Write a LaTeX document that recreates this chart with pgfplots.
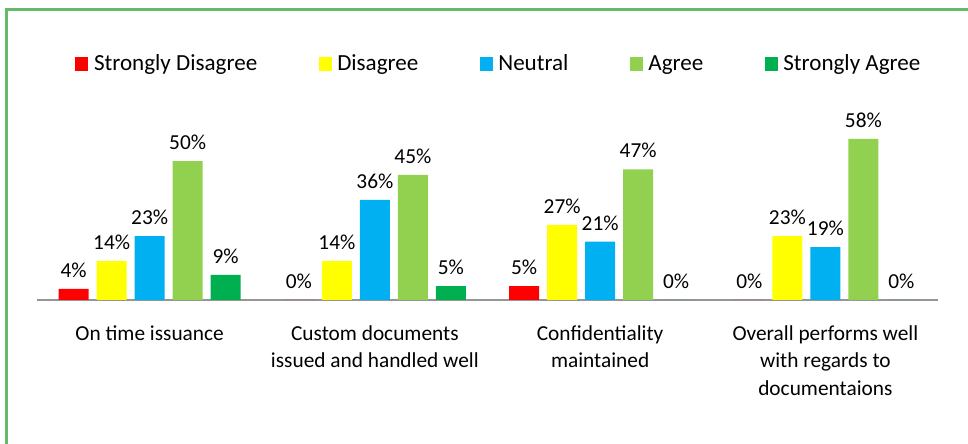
\documentclass[border=0pt]{standalone}
\usepackage{pgfplots}
\pgfplotsset{compat=1.18}
\usepackage{fontspec}
\setmainfont{Carlito}

\definecolor{sdis}{RGB}{255,0,0}
\definecolor{dis}{RGB}{255,255,0}
\definecolor{neu}{RGB}{0,176,240}
\definecolor{agr}{RGB}{146,208,80}
\definecolor{sagr}{RGB}{0,176,80}
\definecolor{framegreen}{RGB}{102,187,106}
\definecolor{axisgray}{RGB}{150,150,150}

\newcommand\chartfont{\fontsize{16pt}{20.6pt}\selectfont}
\newcommand\legfont{\fontsize{17.3pt}{20.6pt}\selectfont}

\begin{document}
\begin{tikzpicture}
\useasboundingbox (0,0) rectangle (726pt,332.25pt);
% frame (only left and top edges visible)
\draw[framegreen, line width=2.25pt] (4.5pt,-2pt) -- (4.5pt,324.75pt) -- (730pt,324.75pt);
\begin{axis}[
    at={(27.75pt,107.25pt)}, anchor=south west,
    scale only axis,
    width=675.75pt, height=125.1pt,
    ymin=0, ymax=60,
    xmin=-0.5, xmax=3.5,
    ybar=6pt, bar width=22.5pt,
    axis x line=bottom, axis y line=none,
    x axis line style={-, draw=axisgray, line width=1.5pt},
    xtick={0,1,2,3},
    xticklabels={On time issuance,
        {Custom documents\\issued and handled well},
        {Confidentiality\\maintained},
        {Overall performs well\\with regards to\\documentaions}},
    major tick length=0pt,
    ytick=\empty,
    xticklabel style={font=\chartfont, align=center, yshift=-15.5pt},
    clip=false,
    /pgf/number format/assume math mode=true,
    nodes near coords={\pgfmathprintnumber{\pgfplotspointmeta}\%},
    every node near coord/.append style={font=\chartfont, black, yshift=5pt},
    legend columns=5,
    legend style={draw=none, at={(0.513,1.415)}, anchor=center, font=\legfont,
        /tikz/every even column/.append style={column sep=44pt}},
    legend image code/.code={\fill[#1] (0pt,-4.9pt) rectangle (9.75pt,4.9pt); \path (12pt,0pt);},
]
\addplot[fill=sdis, draw=none] coordinates {(0,4) (1,0) (2,5) (3,0)};
\addplot[fill=dis, draw=none] coordinates {(0,14) (1,14) (2,27) (3,23)};
\addplot[fill=neu, draw=none] coordinates {(0,23) (1,36) (2,21) (3,19)};
\addplot[fill=agr, draw=none] coordinates {(0,50) (1,45) (2,47) (3,58)};
\addplot[fill=sagr, draw=none] coordinates {(0,9) (1,5) (2,0) (3,0)};
\legend{Strongly Disagree, Disagree, Neutral, Agree, Strongly Agree}
\end{axis}
\end{tikzpicture}
\end{document}
